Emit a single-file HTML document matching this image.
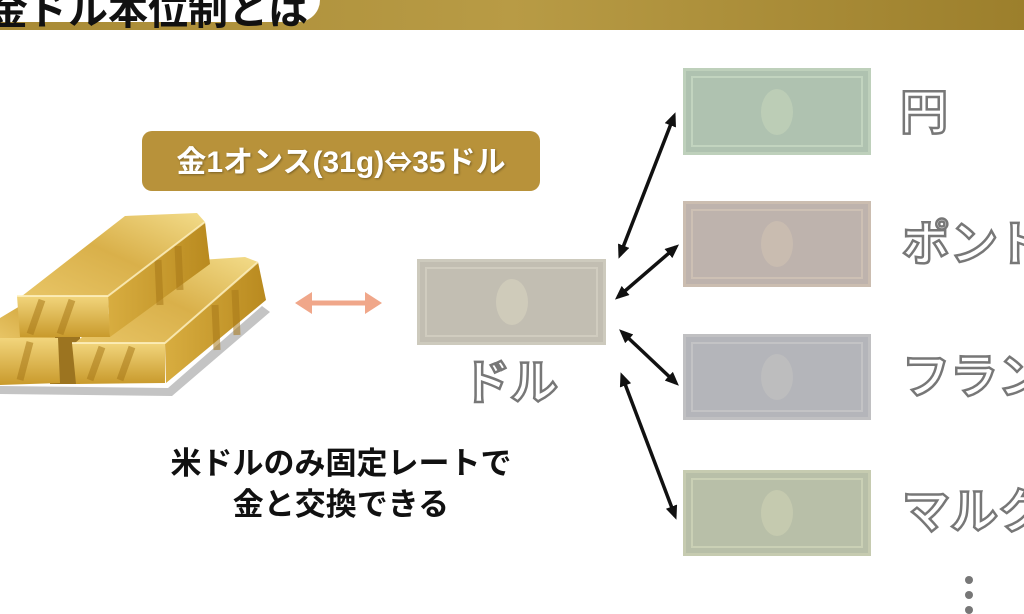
<!DOCTYPE html>
<html><head><meta charset="utf-8"><style>
html,body{margin:0;padding:0;width:1024px;height:614px;overflow:hidden;background:#fff;font-family:"Liberation Sans","Noto Sans CJK JP",sans-serif;}
.abs{position:absolute;}
.bar{left:0;top:0;width:1024px;height:30px;background:linear-gradient(90deg,#a88a35,#b89b45 50%,#9c7f2c);}
.tab{left:-20px;top:-20px;width:340px;height:42px;background:#fff;border-radius:0 0 22px 0;}
.title{left:-12px;top:-22px;font-size:40px;font-weight:bold;color:#111;white-space:nowrap;}
.box{left:142px;top:131px;width:398px;height:60px;background:#b8923a;border-radius:10px;color:#fff;font-weight:bold;font-size:30px;line-height:60px;text-align:center;text-shadow:1px 1px 2px rgba(0,0,0,.35);white-space:nowrap;}
.box .s{font-family:"Noto Sans CJK JP",sans-serif;font-size:28px;}
.bill{box-sizing:border-box;border:3px solid;}
.bill .in{position:absolute;left:5px;top:5px;right:5px;bottom:5px;border:2px solid;}
.bill .ov{position:absolute;left:50%;top:50%;width:32px;height:46px;margin:-23px 0 0 -16px;border-radius:50%;}
.lbl{font-size:48px;font-weight:bold;color:#fff;-webkit-text-stroke:2.5px #777;white-space:nowrap;line-height:1;}
.txt{font-size:31px;font-weight:bold;color:#111;text-align:center;width:500px;white-space:nowrap;}
</style></head><body>
<div class="abs bar"></div>
<div class="abs tab"></div>
<div class="abs title">金ドル本位制とは</div>
<div class="abs box">金1オンス(31g)<span class="s">⇔</span>35ドル</div>

<svg class="abs" style="left:0;top:0" width="1024" height="614">
<defs>
<linearGradient id="gt" x1="0" y1="1" x2="1" y2="0"><stop offset="0" stop-color="#e8c566"/><stop offset=".5" stop-color="#d9b04a"/><stop offset="1" stop-color="#f3dc8a"/></linearGradient>
<linearGradient id="gf" x1="0" y1="0" x2="0" y2="1"><stop offset="0" stop-color="#f2d57c"/><stop offset="1" stop-color="#c99a2c"/></linearGradient>
<linearGradient id="gs" x1="0" y1="0" x2="1" y2="0"><stop offset="0" stop-color="#d8ad40"/><stop offset="1" stop-color="#b98a1f"/></linearGradient>
<marker id="ah" markerWidth="14" markerHeight="12" refX="10" refY="6" orient="auto-start-reverse" markerUnits="userSpaceOnUse"><path d="M0,0 L14,6 L0,12 z" fill="#111"/></marker>
</defs>
<polygon points="0,386 168,388 262,306 270,312 172,396 0,394" fill="#c4c4c4"/>
<polygon points="50,336 80,336 80,384 50,384" fill="#9c7420"/>
<polygon points="0,318 30,300 60,300 55,338 0,340" fill="url(#gt)"/>
<polygon points="0,338 58,338 60,383 0,385" fill="url(#gf)"/>
<polygon points="75,343 165,343 258,262 245,257 170,262" fill="url(#gt)"/>
<polygon points="72,343 165,343 165,383 76,384" fill="url(#gf)"/>
<polygon points="165,343 258,262 266,300 166,383" fill="url(#gs)"/>
<polygon points="22,296 108,296 205,222 197,213 125,216" fill="url(#gt)"/>
<polygon points="17,296 108,296 110,337 20,337" fill="url(#gf)"/>
<polygon points="108,296 205,222 210,264 110,337" fill="url(#gs)"/>
<g stroke="#a8791a" stroke-width="7" opacity=".55">
<line x1="42" y1="300" x2="30" y2="334"/><line x1="72" y1="300" x2="60" y2="334"/>
<line x1="30" y1="342" x2="20" y2="380"/>
<line x1="102" y1="347" x2="90" y2="380"/><line x1="132" y1="347" x2="120" y2="380"/>
<line x1="158" y1="260" x2="160" y2="305"/><line x1="178" y1="246" x2="180" y2="290"/>
<line x1="215" y1="305" x2="217" y2="350"/><line x1="235" y1="290" x2="237" y2="335"/>
</g>
<g stroke="#fff3c4" stroke-width="2" opacity=".8" fill="none">
<polyline points="17,296 108,296 205,222"/>
<polyline points="72,343 165,343 258,262"/>
</g>
<g fill="#f0a78a" stroke="#f0a78a">
<line x1="305" y1="303" x2="370" y2="303" stroke-width="5"/>
<polygon points="295,303 312,292 312,314" stroke="none"/>
<polygon points="382,303 365,292 365,314" stroke="none"/>
</g>
<g stroke="#111" stroke-width="3.5" marker-start="url(#ah)" marker-end="url(#ah)">
<line x1="620" y1="255" x2="674" y2="116"/>
<line x1="618" y1="297" x2="676" y2="247"/>
<line x1="622" y1="332" x2="676" y2="383"/>
<line x1="622" y1="376" x2="675" y2="516"/>
</g>
<g fill="#777"><circle cx="969" cy="580" r="4"/><circle cx="969" cy="595" r="4"/><circle cx="969" cy="610" r="4"/></g>
</svg>

<div class="abs bill" style="left:417px;top:259px;width:189px;height:86px;background:#c2beb2;border-color:#cdcabd;"><div class="in" style="border-color:#d0ccbf"></div><div class="ov" style="background:#cfcbba"></div></div>
<div class="abs bill" style="left:683px;top:68px;width:188px;height:87px;background:#afc2b0;border-color:#bed0bb;"><div class="in" style="border-color:#c2d4bf"></div><div class="ov" style="background:#bccdb6"></div></div>
<div class="abs bill" style="left:683px;top:201px;width:188px;height:86px;background:#beb3ad;border-color:#cbbdb0;"><div class="in" style="border-color:#cdc0b4"></div><div class="ov" style="background:#c9bcb0"></div></div>
<div class="abs bill" style="left:683px;top:334px;width:188px;height:86px;background:#b4b5ba;border-color:#c0c0c2;"><div class="in" style="border-color:#c3c3c5"></div><div class="ov" style="background:#bdbdbe"></div></div>
<div class="abs bill" style="left:683px;top:470px;width:188px;height:86px;background:#b8bfa8;border-color:#c6cbb0;"><div class="in" style="border-color:#cad0b5"></div><div class="ov" style="background:#c5caaf"></div></div>

<div class="abs lbl" style="left:462px;top:360px;">ドル</div>
<div class="abs lbl" style="left:900px;top:90px;">円</div>
<div class="abs lbl" style="left:902px;top:221px;">ポンド</div>
<div class="abs lbl" style="left:902px;top:354px;">フランス</div>
<div class="abs lbl" style="left:902px;top:489px;">マルク</div>

<div class="abs txt" style="left:91px;top:438px;">米ドルのみ固定レートで</div>
<div class="abs txt" style="left:91px;top:479px;">金と交換できる</div>
</body></html>
